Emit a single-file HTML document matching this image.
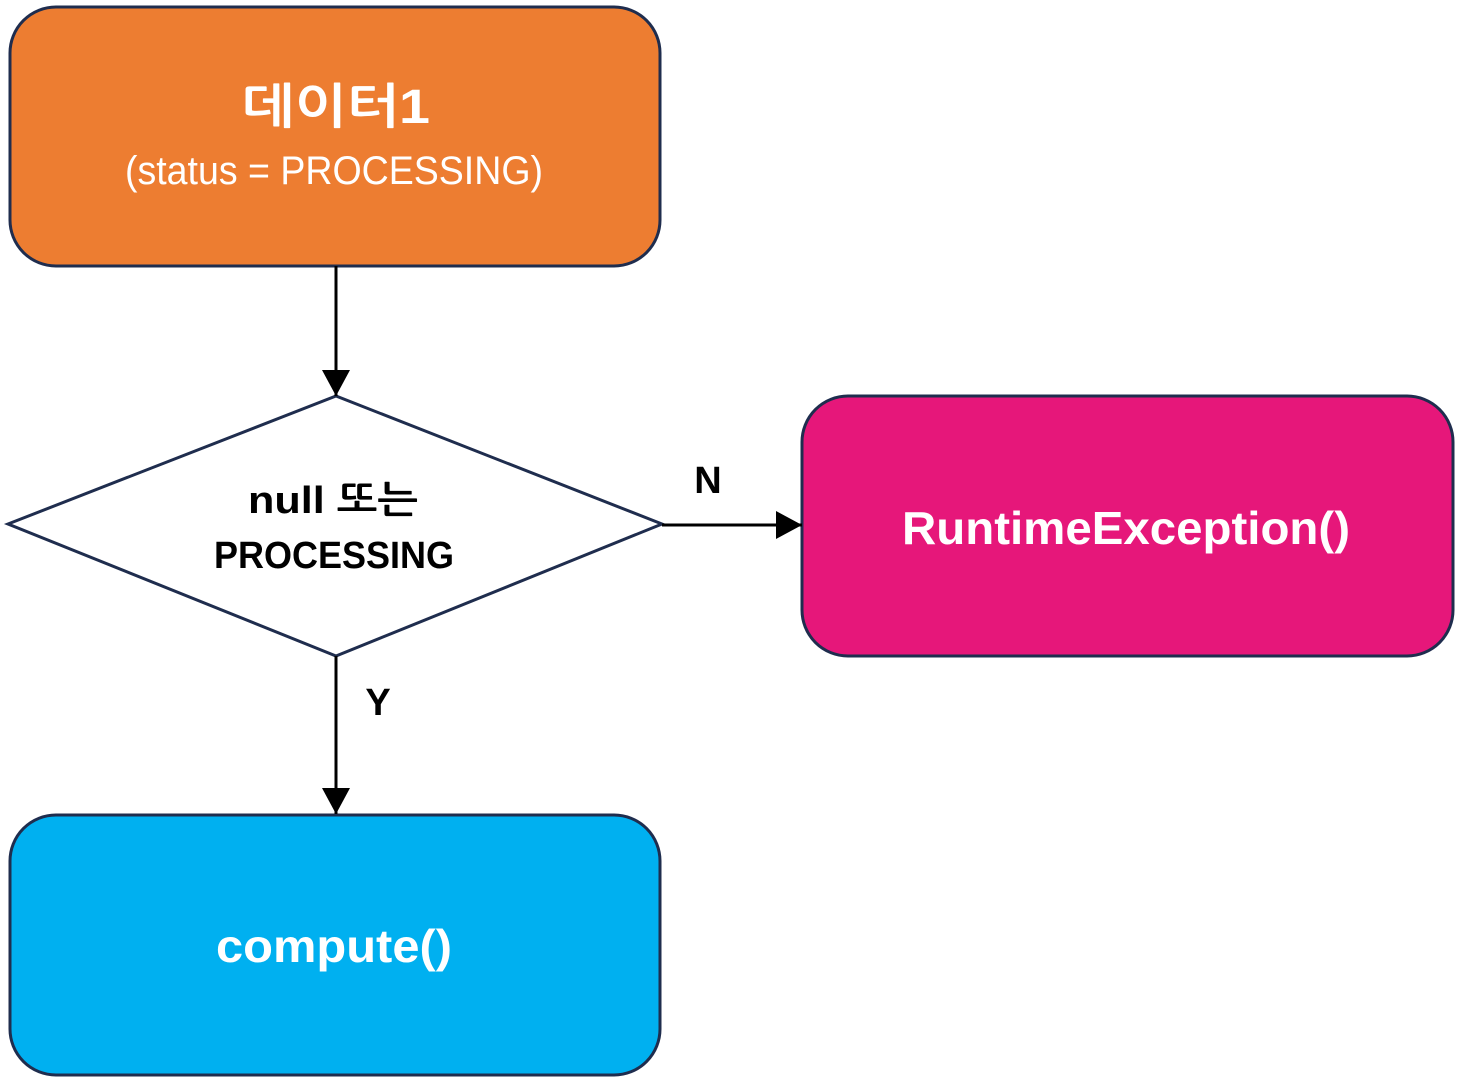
<!DOCTYPE html>
<html><head><meta charset="utf-8"><style>html,body{margin:0;padding:0;background:#fff}svg{display:block}</style></head>
<body>
<svg width="1457" height="1081" viewBox="0 0 1457 1081" xmlns="http://www.w3.org/2000/svg">
<defs><marker id="a" markerWidth="10" markerHeight="10" refX="9" refY="5" orient="auto" markerUnits="userSpaceOnUse"><path d="M0,0 L10,5 L0,10 z" fill="#000"/></marker>
<marker id="b" viewBox="0 0 26 28" markerWidth="26" markerHeight="28" refX="26" refY="14" orient="auto" markerUnits="userSpaceOnUse"><path d="M0,0 L26,14 L0,28 z" fill="#000"/></marker></defs>
<rect x="10" y="7" width="650" height="259" rx="46" fill="#ED7D31" stroke="#1F2D4E" stroke-width="3"/>
<rect x="802" y="396" width="651" height="260" rx="46" fill="#E6177A" stroke="#1F2D4E" stroke-width="3"/>
<rect x="10" y="815" width="650" height="260" rx="46" fill="#00B0F0" stroke="#1F2D4E" stroke-width="3"/>
<polygon points="8,524 336,396 662,524 336,656" fill="#fff" stroke="#1F2D4E" stroke-width="3"/>
<line x1="336" y1="266" x2="336" y2="396" stroke="#000" stroke-width="3" marker-end="url(#b)"/>
<line x1="662" y1="525" x2="802" y2="525" stroke="#000" stroke-width="3" marker-end="url(#b)"/>
<line x1="336" y1="656" x2="336" y2="814" stroke="#000" stroke-width="3" marker-end="url(#b)"/>
<g font-family="'Liberation Sans','NanumGothic','Noto Sans CJK KR',sans-serif" text-anchor="middle">
<text x="336" y="123" font-size="48" font-weight="bold" fill="#fff" textLength="188" lengthAdjust="spacingAndGlyphs">데이터1</text>
<text x="334" y="184" font-size="40" fill="#fff" textLength="418" lengthAdjust="spacingAndGlyphs">(status = PROCESSING)</text>
<text x="333" y="513" font-size="38" font-weight="bold" fill="#000" textLength="170" lengthAdjust="spacingAndGlyphs">null 또는</text>
<text x="334" y="568" font-size="38" font-weight="bold" fill="#000" textLength="240" lengthAdjust="spacingAndGlyphs">PROCESSING</text>
<text x="708" y="493" font-size="38" font-weight="bold" fill="#000">N</text>
<text x="378" y="715" font-size="38" font-weight="bold" fill="#000">Y</text>
<text x="1126" y="544" font-size="46" font-weight="bold" fill="#fff" textLength="448" lengthAdjust="spacingAndGlyphs">RuntimeException()</text>
<text x="334" y="962" font-size="46" font-weight="bold" fill="#fff" textLength="236" lengthAdjust="spacingAndGlyphs">compute()</text>
</g>
</svg>
</body></html>
